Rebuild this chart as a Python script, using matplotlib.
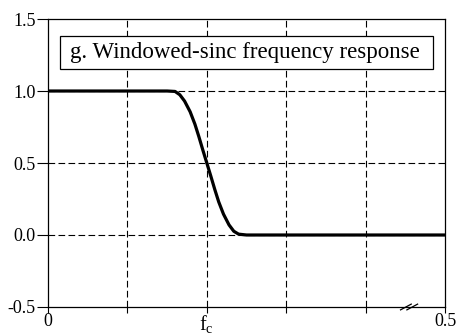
import numpy as np
import matplotlib
matplotlib.use('Agg')
import matplotlib.pyplot as plt
from matplotlib.patches import Rectangle

plt.rcParams['font.family'] = ['Liberation Serif', 'DejaVu Serif']
plt.rcParams['mathtext.fontset'] = 'stix'

# windowed-sinc filter response, read along the transition band
freq = [0.0, 0.150, 0.160, 0.166, 0.172, 0.179, 0.185, 0.190, 0.195, 0.200,
        0.205, 0.210, 0.215, 0.221, 0.228, 0.234, 0.240, 0.250, 0.500]
amp = [1.0, 1.0, 0.997, 0.974, 0.930, 0.856, 0.770, 0.683, 0.590, 0.500,
       0.410, 0.317, 0.230, 0.145, 0.070, 0.026, 0.006, 0.0, 0.0]

x_ticks = [0.0, 0.1, 0.2, 0.3, 0.4, 0.5]
x_tick_labels = ['0', '', r'$\mathregular{f_c}$', '', '', '0.5']
y_ticks = [-0.5, 0.0, 0.5, 1.0, 1.5]
y_tick_labels = ['-0.5', '0.0', '0.5', '1.0', '1.5']
title = 'g. Windowed-sinc frequency response'

fig = plt.figure(figsize=(4.59, 3.33), dpi=100)
ax = fig.add_axes([0.1046, 0.0781, 0.8649, 0.8648])

ax.plot(freq, amp, color='black', lw=2.3, solid_capstyle='round', zorder=3)

ax.set_xlim(0, 0.5)
ax.set_ylim(-0.5, 1.5)
ax.set_xticks(x_ticks)
ax.set_xticklabels(x_tick_labels)
ax.set_yticks(y_ticks)
ax.set_yticklabels(y_tick_labels)
ax.tick_params(axis='both', direction='out', length=4, width=0.8,
               labelsize=13, color='black')
ax.tick_params(axis='y', length=8, pad=1)
ax.tick_params(axis='x', pad=0)
ax.get_xticklabels()[2].set_fontsize(14.5)

# dashed grid only on the interior lines
for gx in x_ticks[1:-1]:
    ax.axvline(gx, color='black', lw=0.8, ls=(0, (6, 3)), zorder=1)
for gy in y_ticks[1:-1]:
    ax.axhline(gy, color='black', lw=0.8, ls=(0, (6, 3)), zorder=1)

for s in ax.spines.values():
    s.set_linewidth(0.9)

# axis break mark on the frequency axis
for dx in (0.0, 0.016):
    ax.plot([0.888 + dx, 0.915 + dx], [-0.010, 0.010], transform=ax.transAxes,
            color='black', lw=0.9, clip_on=False, zorder=4)

ax.add_patch(Rectangle((0.030, 0.826), 0.940, 0.115, transform=ax.transAxes,
                       facecolor='white', edgecolor='black', lw=0.9, zorder=5))
ax.text(0.055, 0.882, title, transform=ax.transAxes, fontsize=16.5,
        ha='left', va='center', zorder=6)

fig.savefig('out.png', dpi=100)
